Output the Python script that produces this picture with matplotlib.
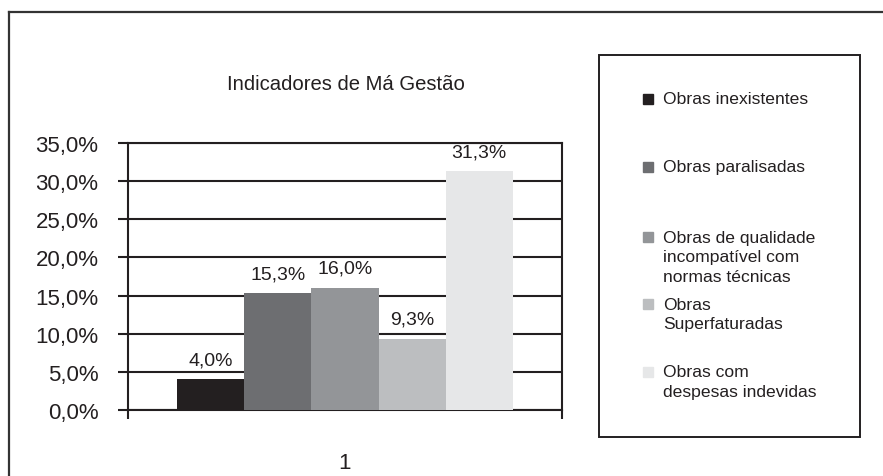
import matplotlib
matplotlib.use("Agg")
import matplotlib.pyplot as plt
from matplotlib.patches import Rectangle
from matplotlib.lines import Line2D
from matplotlib.ticker import FuncFormatter, FixedLocator

plt.rcParams['font.family'] = ['Liberation Sans', 'DejaVu Sans']

# data
series = ["Obras inexistentes",
          "Obras paralisadas",
          "Obras de qualidade\nincompatível com\nnormas técnicas",
          "Obras\nSuperfaturadas",
          "Obras com\ndespesas indevidas"]
values = [4.0, 15.3, 16.0, 9.3, 31.3]
colors = ["#231f20", "#6d6e71", "#939598", "#bcbec0", "#e6e7e8"]
category = "1"
title = "Indicadores de Má Gestão"

W, H = 883, 477
fig = plt.figure(figsize=(W/100, H/100), dpi=100)
dark = "#231f20"

def fx(px):
    return px/W
def fy(py):
    return 1 - py/H

# outer frame (cropped on right and bottom)
fig.add_artist(Line2D([fx(9), fx(9)], [fy(13), -0.1], color="#333333", lw=1.6))
fig.add_artist(Line2D([fx(9), 1.1], [fy(13), fy(13)], color="#333333", lw=1.6))

ax = fig.add_axes([fx(128), fy(411), fx(562)-fx(128), fy(144)-fy(411)])

bw = 0.1544
for i, (v, c) in enumerate(zip(values, colors)):
    b = ax.bar((i-2)*bw, v, width=bw, color=c, zorder=3)
    ax.bar_label(b, labels=[f"{v:.1f}%".replace(".", ",")], padding=8,
                 fontsize=14, color=dark)

ax.set_xlim(-0.5, 0.5)
ax.set_ylim(0, 35)
ax.yaxis.set_major_locator(FixedLocator([0, 5, 10, 15, 20, 25, 30, 35]))
ax.yaxis.set_major_formatter(FuncFormatter(lambda y, p: f"{y:.1f}%".replace(".", ",")))
ax.grid(axis='y', color=dark, lw=1.5, zorder=1)
ax.tick_params(axis='y', length=7.2, width=1.5, color=dark, pad=14,
               labelsize=16, labelcolor=dark)

ax.set_xticks([0])
ax.set_xticklabels([category])
ax.set_xticks([-0.5, 0.5], minor=True)
ax.tick_params(axis='x', which='major', length=0, pad=30, labelsize=16, labelcolor=dark)
ax.tick_params(axis='x', which='minor', length=6.5, width=1.5, color=dark)

for s in ax.spines.values():
    s.set_color(dark)
    s.set_linewidth(1.5)

fig.text(fx(346), fy(90), title, ha='center', va='baseline', fontsize=14.6, color=dark)

# legend box
fig.add_artist(Rectangle((fx(599), fy(438)), fx(860)-fx(599), fy(56)-fy(438),
                         transform=fig.transFigure, fill=False, ec=dark, lw=1.4))
ly = [100, 168, 238, 305, 373]
for lab, c, y0 in zip(series, colors, ly):
    fig.add_artist(Rectangle((fx(643), fy(y0+5)), fx(10), fy(0)-fy(10),
                             transform=fig.transFigure, color=c))
    for j, line in enumerate(lab.split("\n")):
        fig.text(fx(663), fy(y0 + j*19.5), line, ha='left', va='center',
                 fontsize=12.6, color=dark)

fig.savefig("out.png", dpi=100)
